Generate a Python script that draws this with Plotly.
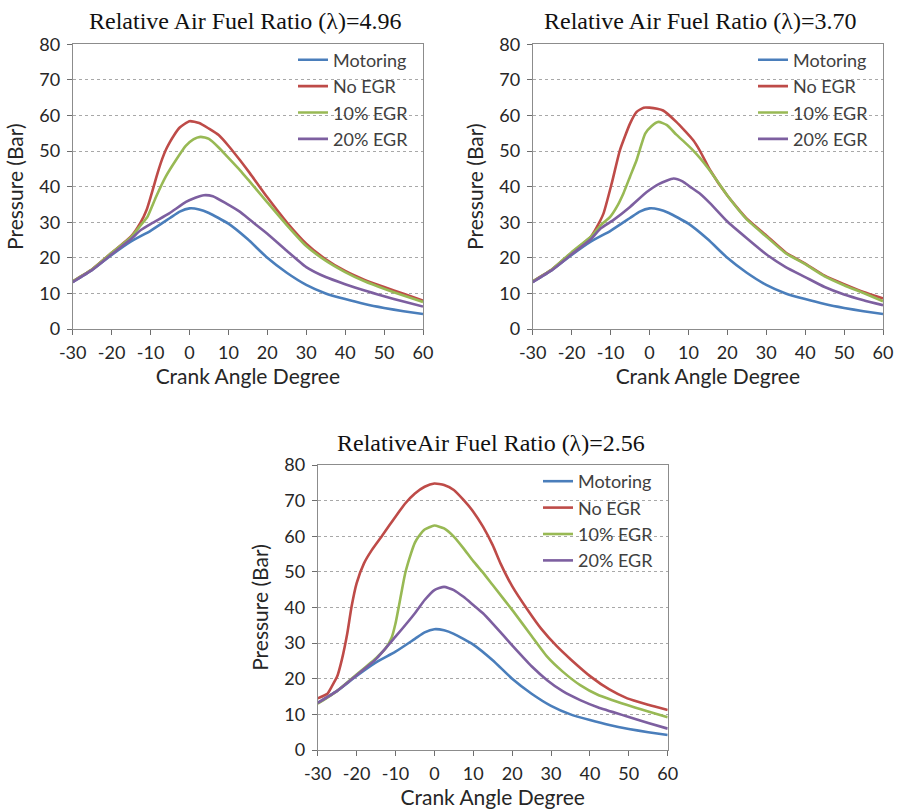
import plotly.graph_objects as go

# ---------------- data ----------------
SERIES = ["Motoring", "No EGR", "10% EGR", "20% EGR"]
COLORS = ["#4a7ebb", "#be4b48", "#98b954", "#7d5fa0"]

TITLES = ["Relative Air Fuel Ratio (\u03bb)=4.96",
          "Relative Air Fuel Ratio (\u03bb)=3.70",
          "RelativeAir Fuel Ratio (\u03bb)=2.56"]

X_TICKS = [-30, -20, -10, 0, 10, 20, 30, 40, 50, 60]
X_TICKTEXT = ["-30", "-20", "-10", "0", "10", "20", "30", "40", "50", "60"]
Y_TICKS = [0, 10, 20, 30, 40, 50, 60, 70, 80]

# Motoring (same in all three panels)
mot_x = [-30, -25, -20, -15, -10, -5, -2.5, 0, 2.5, 5, 10, 15, 20, 25, 30, 35, 40, 45, 50, 55, 60]
mot_y = [13.2, 16.6, 20.8, 24.6, 27.6, 31.2, 33.0, 33.9, 33.6, 32.6, 29.6, 25.2, 20.0, 15.8, 12.4,
         10.0, 8.4, 7.0, 5.9, 5.0, 4.2]

# lambda = 4.96
a_noegr_x = [-30, -25, -20, -15, -12.5, -11, -10, -9, -8, -7, -6, -5, -4, -2.5, 0, 2.5, 5, 7.5,
             10, 13, 15.5, 20, 25, 30, 35, 40, 45, 50, 55, 60]
a_noegr_y = [13.4, 16.8, 21.4, 26.0, 30.0, 33.5, 37.0, 40.8, 44.5, 47.8, 50.5, 52.6, 54.4, 56.6,
             58.4, 57.9, 56.3, 54.5, 51.5, 47.4, 43.8, 37.0, 30.0, 24.0, 19.6, 16.3, 13.8, 11.8,
             9.9, 8.0]
a_egr10_x = [-30, -25, -20, -15, -12.5, -10.8, -8.6, -6.1, -3.5, -0.9, 1, 2.9, 5, 7.5, 9.4, 13,
             15.5, 20, 25, 30, 35, 40, 45, 50, 55, 60]
a_egr10_y = [13.4, 16.8, 21.4, 25.8, 29.2, 31.5, 37.1, 42.8, 47.4, 51.5, 53.3, 54.0, 53.4, 51.0,
             48.8, 44.6, 41.4, 35.6, 29.2, 23.3, 19.2, 16.0, 13.4, 11.3, 9.4, 7.6]
a_egr20_x = [-30, -25, -20, -15, -12.5, -9.5, -5.2, -0.9, 1.5, 3.7, 6, 9.4, 13, 15.6, 20, 25, 30,
             35, 40, 45, 50, 55, 60]
a_egr20_y = [13.2, 16.6, 21.0, 25.3, 27.8, 29.8, 32.5, 35.7, 36.9, 37.6, 37.3, 35.3, 32.9, 30.6,
             26.8, 22.0, 17.4, 14.6, 12.6, 10.8, 9.2, 7.7, 6.3]

# lambda = 3.70
b_noegr_x = [-30, -25, -20, -15, -13.5, -11.8, -9.7, -7.6, -5, -3.3, -1.5, 0, 2, 3.5, 6.9, 11.2,
             13, 15.6, 20, 25, 30, 35, 40, 45, 50, 55, 60]
b_noegr_y = [13.4, 16.8, 21.4, 26.0, 28.7, 32.5, 40.9, 50.2, 57.7, 61.0, 62.2, 62.2, 61.9, 61.4,
             58.2, 53.1, 50.0, 44.6, 37.5, 31.0, 26.3, 21.5, 18.4, 15.0, 12.6, 10.4, 8.6]
b_egr10_x = [-30, -25, -20, -15, -12.5, -10.1, -8.4, -6.7, -5, -3.3, -1.1, 0.5, 2.3, 4.5, 6.9, 9,
             11.2, 13, 15.6, 20, 25, 30, 35, 40, 45, 50, 55, 60]
b_egr10_y = [13.4, 16.8, 21.6, 26.0, 29.2, 31.5, 34.3, 38.1, 42.8, 47.5, 54.9, 57.0, 58.2, 57.3,
             54.6, 52.5, 50.2, 48.0, 44.4, 37.5, 30.8, 26.0, 21.3, 18.2, 14.8, 12.3, 10.1, 7.8]
b_egr20_x = [-30, -25, -20, -15, -12.5, -9.3, -5, -0.7, 2.5, 6.2, 8.5, 10.4, 13, 15.6, 20, 25, 30,
             35, 40, 45, 50, 55, 60]
b_egr20_y = [13.2, 16.6, 21.0, 25.3, 28.3, 30.6, 34.3, 38.5, 40.8, 42.3, 41.5, 40.0, 38.0, 35.3,
             30.2, 25.5, 21.0, 17.4, 14.6, 11.8, 9.7, 8.1, 6.7]

# lambda = 2.56
c_noegr_x = [-30, -27.5, -26.4, -25, -23.8, -22.4, -21.3, -20, -18.1, -16.1, -13.4, -10, -7.5, -5,
             -2.5, 0, 2.5, 5, 7.5, 10, 12.5, 15, 17, 20, 24, 27.5, 31.6, 35, 40.2, 45, 49.6, 55, 60]
c_noegr_y = [14.5, 15.8, 17.8, 20.6, 25.3, 32.7, 40.2, 46.8, 52.4, 56.1, 60.2, 65.5, 69.2, 72.0,
             73.9, 74.8, 74.4, 73.0, 70.2, 66.9, 62.7, 57.5, 52.4, 46.0, 39.3, 34.0, 29.0, 25.5,
             20.6, 17.0, 14.5, 12.7, 11.2]
c_egr10_x = [-30, -25, -20, -15, -12.5, -11, -10, -8.5, -7.5, -6, -5, -4, -2.5, 0, 2.5, 5, 7.5,
             10, 12.5, 15, 20.3, 25, 29, 33, 37.5, 42, 49.6, 55, 60]
c_egr10_y = [13.0, 16.6, 21.2, 25.8, 28.6, 31.5, 35.5, 44.0, 49.6, 55.2, 58.2, 60.0, 61.9, 63.0,
             62.2, 59.9, 56.6, 53.0, 49.8, 46.3, 38.9, 32.0, 26.2, 22.0, 18.2, 15.5, 12.6, 10.8,
             9.2]
c_egr20_x = [-30, -25, -20, -15, -10, -5, -2.5, 0, 2.5, 5, 7.5, 10, 12.5, 15, 20.3, 25, 29, 33,
             37.5, 42, 49.6, 55, 60]
c_egr20_y = [13.2, 16.6, 21.0, 25.5, 31.8, 38.4, 42.1, 44.9, 45.8, 44.9, 43.0, 40.7, 38.4, 35.5,
             29.0, 23.5, 19.6, 16.5, 14.0, 12.0, 9.4, 7.6, 6.0]

PANELS = [
    [(mot_x, mot_y), (a_noegr_x, a_noegr_y), (a_egr10_x, a_egr10_y), (a_egr20_x, a_egr20_y)],
    [(mot_x, mot_y), (b_noegr_x, b_noegr_y), (b_egr10_x, b_egr10_y), (b_egr20_x, b_egr20_y)],
    [(mot_x, mot_y), (c_noegr_x, c_noegr_y), (c_egr10_x, c_egr10_y), (c_egr20_x, c_egr20_y)],
]

# ---------------- layout geometry ----------------
W, H = 897, 810
X_DOMAINS = [(72.7, 423.0), (532.7, 883.0), (317.7, 667.7)]
Y_DOMAINS = [(44.3, 329.0), (44.3, 329.0), (465.0, 750.0)]
LEGEND_POS = [(293, 41.5), (753, 41.5), (538, 463)]
TITLE_POS = [(245, 21), (700, 21), (491, 443)]

SANS = "Lato, 'Open Sans', sans-serif"
SERIF = "'Liberation Serif', 'Times New Roman', serif"
TXT = "#262626"

fig = go.Figure()
legend_names = ["legend", "legend2", "legend3"]

for p, panel in enumerate(PANELS):
    xa = "x" if p == 0 else f"x{p+1}"
    ya = "y" if p == 0 else f"y{p+1}"
    for s, (xs, ys) in enumerate(panel):
        fig.add_trace(go.Scatter(
            x=xs, y=ys, mode="lines", name=SERIES[s],
            line=dict(color=COLORS[s], width=2.6, shape="spline", smoothing=0.5),
            xaxis=xa, yaxis=ya, legend=legend_names[p], hoverinfo="x+y+name",
        ))

layout = dict(width=W, height=H, margin=dict(l=0, r=0, t=0, b=0, autoexpand=False),
              paper_bgcolor="white", plot_bgcolor="white", showlegend=True,
              annotations=[])

for p in range(3):
    xk = "xaxis" if p == 0 else f"xaxis{p+1}"
    yk = "yaxis" if p == 0 else f"yaxis{p+1}"
    xd = X_DOMAINS[p]
    yd = Y_DOMAINS[p]
    layout[xk] = dict(
        domain=[xd[0] / W, xd[1] / W], anchor="y" if p == 0 else f"y{p+1}",
        range=[-30, 60], tickvals=X_TICKS, ticktext=X_TICKTEXT, ticks="outside", ticklen=5,
        tickwidth=1, tickcolor="#6e6e6e", showline=True, linecolor="#8c8c8c", linewidth=1,
        mirror=True, showgrid=False, zeroline=False, fixedrange=True, automargin=False,
        ticklabelstandoff=2,
        tickfont=dict(family=SANS, size=18, color=TXT),
        title=dict(text="Crank Angle Degree", font=dict(family=SANS, size=21, color=TXT), standoff=5),
    )
    layout[yk] = dict(
        domain=[1 - yd[1] / H, 1 - yd[0] / H], anchor="x" if p == 0 else f"x{p+1}",
        range=[0, 80], tickvals=Y_TICKS, ticks="outside", ticklen=5, tickwidth=1,
        tickcolor="#6e6e6e", showline=True, linecolor="#8c8c8c", linewidth=1, mirror=True,
        showgrid=True, gridcolor="#a8a8a8", gridwidth=1, griddash="dot", zeroline=False,
        fixedrange=True, automargin=False, ticklabelstandoff=3,
        tickfont=dict(family=SANS, size=18, color=TXT),
        title=dict(text="Pressure (Bar)", font=dict(family=SANS, size=21, color=TXT), standoff=9),
    )
    lx, ly = LEGEND_POS[p]
    layout[legend_names[p]] = dict(
        x=lx / W, y=1 - ly / H, xanchor="left", yanchor="top",
        bgcolor="rgba(0,0,0,0)", borderwidth=0,
        font=dict(family=SANS, size=18, color="#404040"),
    )
    tx, ty = TITLE_POS[p]
    layout["annotations"].append(dict(
        text=TITLES[p], x=tx / W, y=1 - ty / H, xref="paper", yref="paper",
        xanchor="center", yanchor="middle", showarrow=False,
        font=dict(family=SERIF, size=24, color="#111111"),
    ))

fig.update_layout(**layout)
fig.write_html("out.html")
